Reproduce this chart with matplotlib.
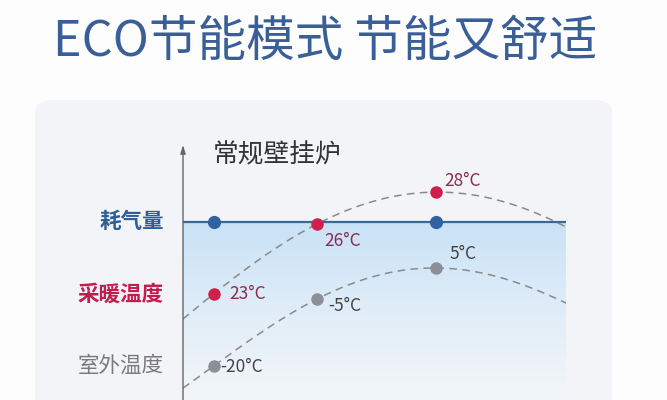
import numpy as np
import matplotlib
matplotlib.use("Agg")
import matplotlib.pyplot as plt
from matplotlib.patches import FancyBboxPatch
from matplotlib.colors import LinearSegmentedColormap

plt.rcParams['font.family'] = ['Noto Sans CJK SC', 'DejaVu Sans']

# ---- data (schematic levels) ----
title = "ECO节能模式 节能又舒适"
subtitle = "常规壁挂炉"
row_labels = ["耗气量", "采暖温度", "室外温度"]
stage_t = [0.8, 3.5, 6.6]                 # time positions of the three stages
gas_t = [0.8, 6.6]
gas_level = 66
heat_level = [39.3, 65.2, 77.0]
heat_labels = ["23°C", "26°C", "28°C"]
out_level = [12.6, 37.4, 48.9]
out_labels = ["-20°C", "-5°C", "5°C"]
# dashed trend curves incl. their ends at the plot edges
heat_curve_t = [0.0, 0.8, 3.5, 6.6, 10.0]
heat_curve_v = [30.0, 39.3, 65.2, 77.0, 64.1]
out_curve_t = [0.0, 0.8, 3.5, 6.6, 10.0]
out_curve_v = [4.4, 12.6, 37.4, 48.9, 35.9]

BLUE = "#2f62a0"
RED = "#d11f4b"
GREY = "#8b9096"
W, H = 667, 400

fig = plt.figure(figsize=(W / 100, H / 100), dpi=100)
fig.patch.set_facecolor("#fdfdfe")

# card
card = FancyBboxPatch((35 / W, -0.1), (612 - 35) / W, 1.1 - 100 / H,
                      boxstyle="round,pad=0,rounding_size=0.03",
                      transform=fig.transFigure, facecolor="#f3f4f8",
                      edgecolor="none", zorder=-5)
fig.patches.append(card)

fig.text(325 / W, 1 - 42 / H, title, ha="center", va="center",
         fontsize=35, color="#3a5f98")

# plot axes: x 183..566 px, y 130..400 px
ax = fig.add_axes([183 / W, 0, (566 - 183) / W, (400 - 130) / H])
ax.set_zorder(2)
ax.patch.set_alpha(0)
ax.set_xlim(0, 10)
ax.set_ylim(0, 100)
ax.axis("off")

# gradient fill below gas line
cmap = LinearSegmentedColormap.from_list("g", ["#f3f6f9", "#e0edf8", "#c8e2f6"])
grad = np.linspace(0, 1, 256).reshape(-1, 1)
ax.imshow(grad, extent=[0, 10, 0, gas_level], origin="lower", cmap=cmap,
          aspect="auto", zorder=1)

# gas line
ax.plot([0, 10], [gas_level, gas_level], color="#3c6891", lw=1.6, zorder=3)

# vertical axis with arrow
ax.annotate("", xy=(0, 94.5), xytext=(0, -2),
            arrowprops=dict(arrowstyle="-|>,head_length=0.5,head_width=0.15",
                            color="#666666", lw=1.0, shrinkA=0, shrinkB=0),
            annotation_clip=False, zorder=4)

# dashed curves
def smooth(tk, vk):
    c = np.polyfit(tk, vk, len(tk) - 1)
    tt = np.linspace(tk[0], tk[-1], 200)
    return tt, np.polyval(c, tt)

for tk, vk in [(heat_curve_t, heat_curve_v), (out_curve_t, out_curve_v)]:
    tt, vv = smooth(tk, vk)
    ax.plot(tt, vv, color="#8a8a8a", lw=1.1, ls=(0, (5, 3.5)), zorder=2)

# points
ax.plot(gas_t, [gas_level] * len(gas_t), "o", color=BLUE, ms=9.5, zorder=5,
        mec="none")
ax.plot(stage_t, heat_level, "o", color=RED, ms=9, zorder=6, mec="none")
ax.plot(stage_t, out_level, "o", color=GREY, ms=9, zorder=6, mec="none")

# point labels (offsets in points)
heat_off = [(11, 0), (5, -12), (6, 8)]
out_off = [(5, -1), (8, -5), (10, 10)]
for t, v, lab, off in zip(stage_t, heat_level, heat_labels, heat_off):
    ax.annotate(lab, (t, v), xytext=off, textcoords="offset points",
                ha="left", va="center", fontsize=12.5, color="#8a2c4e",
                zorder=7, annotation_clip=False)
for t, v, lab, off in zip(stage_t, out_level, out_labels, out_off):
    ax.annotate(lab, (t, v), xytext=off, textcoords="offset points",
                ha="left", va="center", fontsize=12.5, color="#444444",
                zorder=7, annotation_clip=False)

# subtitle
ax.text(0.78, (400 - 155) / 2.7, subtitle, ha="left", va="center",
        fontsize=18.5, color="#333333")

# row labels to the left of the axis
row_levels = [gas_level, heat_level[0], out_level[0]]
row_colors = ["#2f5d95", "#c21d4f", "#7a7a7a"]
row_weights = ["bold", "bold", "normal"]
for lab, lv, col, wt in zip(row_labels, row_levels, row_colors, row_weights):
    ax.annotate(lab, (0, lv), xytext=(-14, 0), textcoords="offset points",
                ha="right", va="center", fontsize=15.5, color=col,
                fontweight=wt, annotation_clip=False)

fig.savefig("out.png", dpi=100)
